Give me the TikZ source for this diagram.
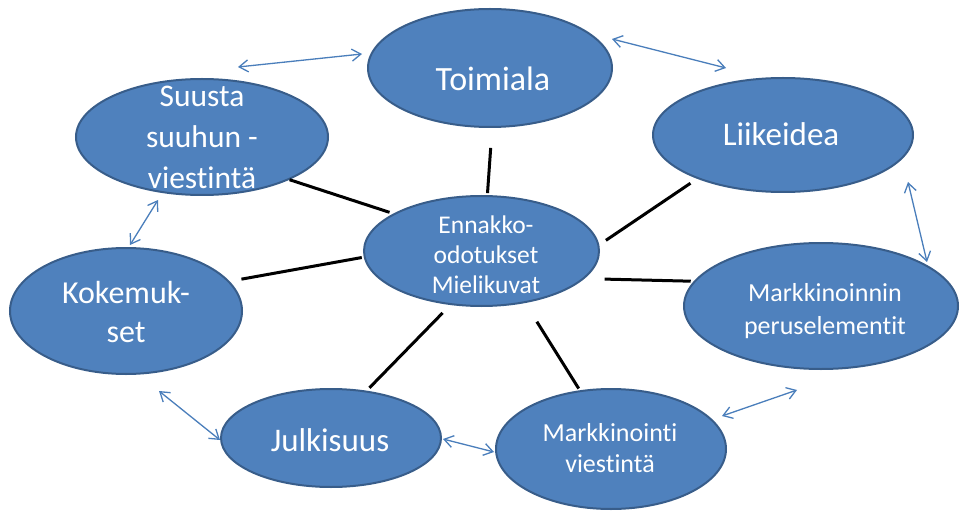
\documentclass[tikz,border=0pt]{standalone}
\usepackage{fontspec}
\setmainfont{Carlito}[Ligatures={NoCommon,NoDiscretionary,NoContextual}]
\usetikzlibrary{shapes.geometric,arrows.meta}
\definecolor{blobfill}{HTML}{4F81BD}
\definecolor{blobedge}{HTML}{385D8A}
\definecolor{linkblue}{HTML}{4A7EBB}
\begin{document}
\begin{tikzpicture}[x=1pt,y=-1pt,
  blob/.style 2 args={ellipse, draw=blobedge, fill=blobfill, line width=2pt,
    inner sep=0pt, minimum width=#1pt, minimum height=#2pt},
  txt/.style={text=white, align=center, inner sep=0pt},
  bigtxt/.style={txt, font=\fontsize{33}{40}\selectfont},
  spoke/.style={line width=3pt, line cap=butt},
  twoway/.style={draw=linkblue, line width=1.3pt,
    {Straight Barb[length=9pt,width=12pt]}-{Straight Barb[length=9pt,width=12pt]}},
]
\useasboundingbox (0,0) rectangle (961,513);

% ellipses
\node[blob={244}{118}] (toim)   at (490,68)    {};
\node[blob={235}{110}] (cent)   at (481.5,251) {};
\node[blob={260}{114}] (liike)  at (783,135)   {};
\node[blob={274}{126}] (perus)  at (821,306)   {};
\node[blob={230}{120}] (mviest) at (611,449)   {};
\node[blob={220}{98}]  (julk)   at (331,438)   {};
\node[blob={232}{126}] (koke)   at (126,311)   {};
\node[blob={252}{116}] (suusta) at (202,137)   {};

% labels
\node[txt, font=\fontsize{34}{40}\selectfont] (toim-t) at (493,79) {Toimiala};
\node[bigtxt] (liike-t)  at (781,134) {Liikeidea};
\node[bigtxt] (julk-t)   at (330,440) {Julkisuus};
\node[txt, font=\fontsize{32}{39}\selectfont] (koke-t) at (126,312) {Kokemuk-\\set};
\node[txt, font=\fontsize{31.5}{41}\selectfont] (suusta-t) at (202,137) {Suusta\\suuhun -\\viestintä};
\node[txt, font=\fontsize{25.5}{30}\selectfont] (cent-t) at (486,255) {Ennakko-\\odotukset\\Mielikuvat};
\node[txt, font=\fontsize{26}{33}\selectfont] (perus-t) at (825,311) {Markkinoinnin\\peruselementit};
\node[txt, font=\fontsize{26}{31}\selectfont] (mviest-t) at (610,448) {Markkinointi\\viestintä};

% spokes to the centre
\draw[spoke, shorten <=20pt, shorten >=2pt]  (toim.-88)    -- (cent.84);
\draw[spoke, shorten <=8pt,  shorten >=8pt]  (liike.-153)  -- (cent.3);
\draw[spoke, shorten <=3pt,  shorten >=20pt] (perus.169)   -- (cent.-15);
\draw[spoke, shorten <=2pt,  shorten >=22pt] (mviest.118)  -- (cent.-50);
\draw[spoke, shorten <=4pt,  shorten >=11pt] (julk.53)     -- (cent.-120);
\draw[spoke, shorten <=12pt, shorten >=2pt]  (koke.16)     -- (cent.183);
\draw[spoke, shorten >=4pt]                  (suusta.-26)  -- (cent.157);

% ring of two-way links
\draw[twoway] ([shift={(36,-70)}]suusta.center) -- ([shift={(-128,-14)}]toim.center);
\draw[twoway] ([shift={(122,-29)}]toim.center)  -- ([shift={(-57,-67)}]liike.center);
\draw[twoway] ([shift={(125,47)}]liike.center)  -- ([shift={(106,-44)}]perus.center);
\draw[twoway] ([shift={(-24,84)}]perus.center)  -- ([shift={(111,-33)}]mviest.center);
\draw[twoway] ([shift={(-117,3)}]mviest.center) -- ([shift={(112,1)}]julk.center);
\draw[twoway] ([shift={(-111,2)}]julk.center)   -- ([shift={(33,80)}]koke.center);
\draw[twoway] ([shift={(4,-66)}]koke.center)    -- ([shift={(-44,63)}]suusta.center);
\end{tikzpicture}
\end{document}
